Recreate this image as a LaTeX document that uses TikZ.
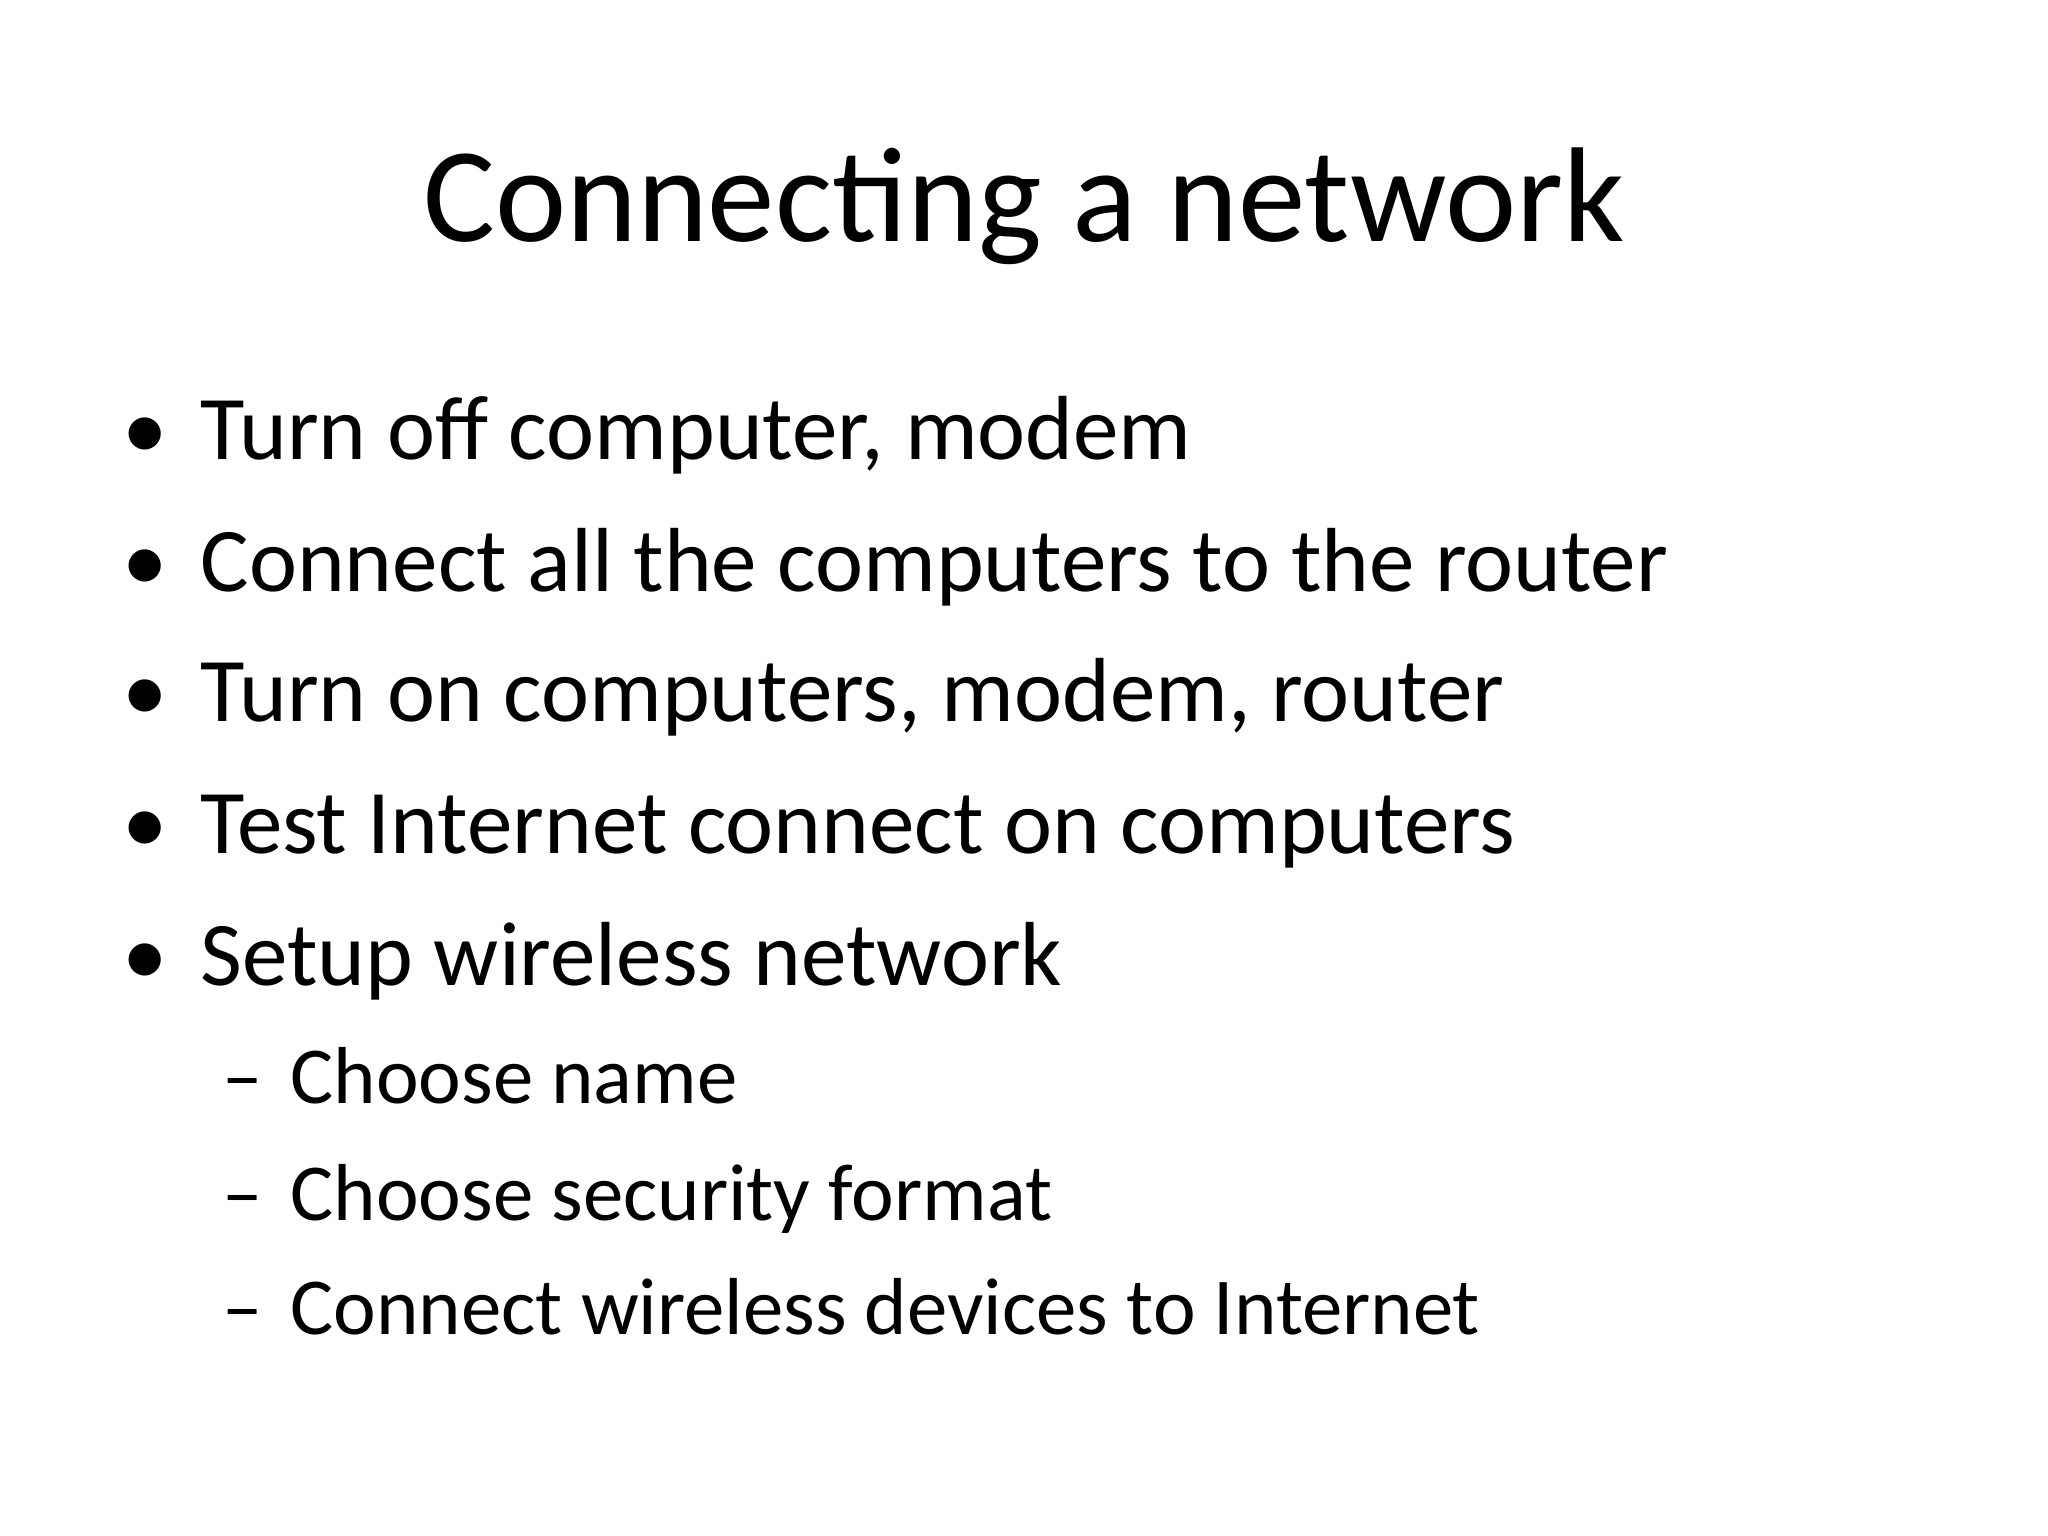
\documentclass[tikz,border=0pt]{standalone}
\usepackage{fontspec}
\setmainfont{Carlito}
\usepackage{tikz}
\usetikzlibrary{positioning}
\tikzstyle{none}=[inner sep=0pt]
\tikzstyle{title}=[inner sep=0pt,anchor=base,font=\fontsize{38.4}{46}\selectfont]
\tikzstyle{item}=[inner sep=0pt,anchor=base west,font=\fontsize{25.9}{31}\selectfont]
\tikzstyle{subitem}=[inner sep=0pt,anchor=base west,font=\fontsize{23}{28}\selectfont]
\tikzstyle{dot}=[inner sep=0pt,anchor=base west,font=\fontsize{25.9}{31}\selectfont]
\begin{document}
\begin{tikzpicture}
	\useasboundingbox[fill=white] (0,0) rectangle (20.48,15.36);
	\node [style=title] (T) at (10.24, 12.94) {Connecting a network};

	\node [style=dot] (b1) at (1.22, 10.76) {\textbullet};
	\node [style=item] (i1) at (2.00, 10.76) {Turn off computer, modem};
	\node [style=dot] (b2) at (1.22, 9.44) {\textbullet};
	\node [style=item] (i2) at (2.00, 9.44) {Connect all the computers to the router};
	\node [style=dot] (b3) at (1.22, 8.14) {\textbullet};
	\node [style=item] (i3) at (2.00, 8.14) {Turn on computers, modem, router};
	\node [style=dot] (b4) at (1.22, 6.82) {\textbullet};
	\node [style=item] (i4) at (2.00, 6.82) {Test Internet connect on computers};
	\node [style=dot] (b5) at (1.22, 5.50) {\textbullet};
	\node [style=item] (i5) at (2.00, 5.50) {Setup wireless network};

	\node [style=subitem] (d1) at (2.22, 4.32) {–};
	\node [style=subitem] (s1) at (2.90, 4.32) {Choose name};
	\node [style=subitem] (d2) at (2.22, 3.15) {–};
	\node [style=subitem] (s2) at (2.90, 3.15) {Choose security format};
	\node [style=subitem] (d3) at (2.22, 2.01) {–};
	\node [style=subitem] (s3) at (2.90, 2.01) {Connect wireless devices to Internet};
\end{tikzpicture}
\end{document}
